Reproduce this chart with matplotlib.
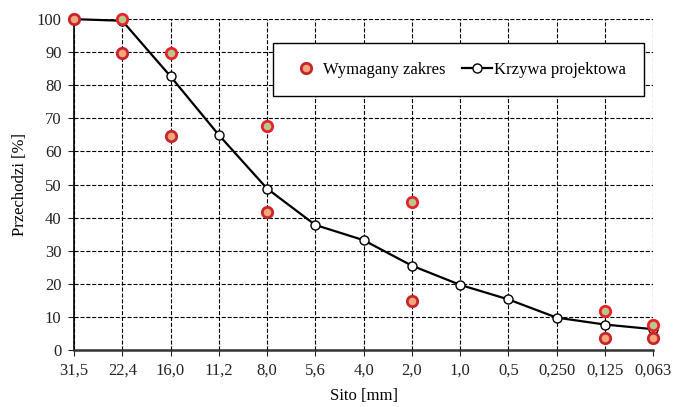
import matplotlib.pyplot as plt

plt.rcParams['font.family'] = ['Liberation Serif', 'DejaVu Serif']

sieves = ['31,5', '22,4', '16,0', '11,2', '8,0', '5,6', '4,0', '2,0',
          '1,0', '0,5', '0,250', '0,125', '0,063']
curve = [100, 99.5, 82.7, 65, 48.8, 37.8, 33.2, 25.5, 19.7, 15.3, 9.8, 7.7, 6.3]

# required envelope: upper and lower limits at selected sieves
upper_idx = [1, 2, 4, 7, 11, 12]
upper_val = [100, 89.7, 67.8, 44.8, 11.7, 7.5]
lower_idx = [0, 1, 2, 4, 7, 11, 12]
lower_val = [100, 89.7, 64.6, 41.6, 14.8, 3.6, 3.6]

fig = plt.figure(figsize=(6.74, 4.07), dpi=100)
ax = fig.add_axes([0.1098, 0.14, 0.8592, 0.813])

x = list(range(len(sieves)))
ax.plot(upper_idx, upper_val, 'o', ms=7.5, mfc='#b5c98a', mec='#e8222a', mew=2,
        zorder=4, clip_on=False)
ax.plot(lower_idx, lower_val, 'o', ms=7.5, mfc='#f4a77a', mec='#c4262b', mew=2,
        zorder=5, clip_on=False, label='Wymagany zakres')
ax.plot(x, curve, '-o', color='black', lw=1.6, ms=6.5, mfc='white', mec='black', mew=1,
        zorder=3, clip_on=False, label='Krzywa projektowa')

ax.set_xlim(0, 12)
ax.set_ylim(0, 100)
ax.set_xticks(x)
ax.set_xticklabels(sieves)
ax.set_yticks(range(0, 101, 10))
ax.grid(True, ls='--', color='black', lw=0.8)
ax.set_axisbelow(True)
for s in ['top', 'right']:
    ax.spines[s].set_visible(False)
ax.spines['left'].set_linewidth(1.2)
ax.spines['bottom'].set_linewidth(1.8)
ax.spines['bottom'].set_color('#333333')
ax.tick_params(labelsize=12, direction='out', length=4, pad=5, colors='#222222')
ax.set_xlabel('Sito [mm]', fontsize=12, labelpad=7)
ax.set_ylabel('Przechodzi [%]', fontsize=12, labelpad=6)

leg = ax.legend(loc='upper right', bbox_to_anchor=(0.984, 0.927), ncol=2, fontsize=12,
                frameon=True, fancybox=False, edgecolor='black', framealpha=1,
                borderpad=1.1, borderaxespad=0, handlelength=1.8, handletextpad=0.1,
                columnspacing=1.0)
leg.get_frame().set_linewidth(1.0)

fig.savefig('out.png', dpi=100)
